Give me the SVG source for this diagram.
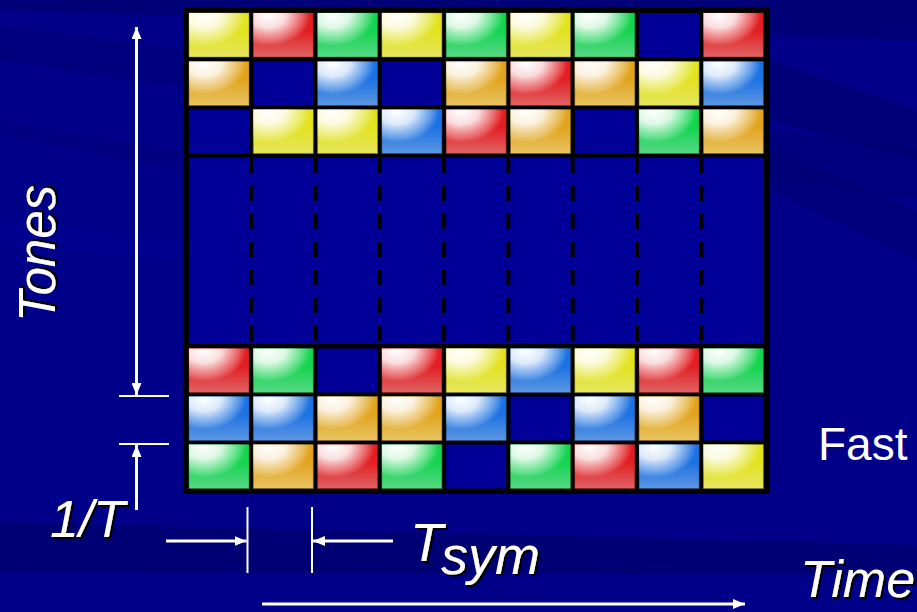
<svg xmlns="http://www.w3.org/2000/svg" xmlns:xlink="http://www.w3.org/1999/xlink" width="917" height="612" viewBox="0 0 917 612">
<style>
.lbl{font-family:"Liberation Sans",Arial,sans-serif;fill:#fff}
.it{font-style:italic}
.shd{filter:url(#ds)}
.ln{stroke:#fff;stroke-width:3;fill:none}
.tk{stroke:#fff;stroke-width:2}
.dash{stroke:#000;stroke-width:4;stroke-dasharray:15 13}
</style>
<defs>
<filter id="ds" x="-10%" y="-10%" width="130%" height="130%">
<feDropShadow dx="2" dy="2" stdDeviation="0.6" flood-color="#000" flood-opacity="1"/>
</filter>
<marker id="ah" markerUnits="userSpaceOnUse" markerWidth="12" markerHeight="10" refX="12" refY="5" orient="auto-start-reverse">
<path d="M0,0 L12,5 L0,10 z" fill="#fff"/>
</marker>
<radialGradient id="hl" cx="0.25" cy="0.05" r="0.95">
<stop offset="0" stop-color="#fff" stop-opacity="1"/>
<stop offset="0.3" stop-color="#fff" stop-opacity="0.85"/>
<stop offset="0.6" stop-color="#fff" stop-opacity="0.3"/>
<stop offset="0.74" stop-color="#fff" stop-opacity="0"/>
</radialGradient>
<linearGradient id="gY" x1="0" y1="0" x2="0" y2="1"><stop offset="0.4" stop-color="#e2e21e"/><stop offset="1" stop-color="#e6e660"/></linearGradient>
<linearGradient id="gR" x1="0" y1="0" x2="0" y2="1"><stop offset="0.4" stop-color="#e21e22"/><stop offset="1" stop-color="#e06464"/></linearGradient>
<linearGradient id="gG" x1="0" y1="0" x2="0" y2="1"><stop offset="0.4" stop-color="#14d450"/><stop offset="1" stop-color="#56d884"/></linearGradient>
<linearGradient id="gB" x1="0" y1="0" x2="0" y2="1"><stop offset="0.4" stop-color="#1c72e2"/><stop offset="1" stop-color="#5c96e2"/></linearGradient>
<linearGradient id="gO" x1="0" y1="0" x2="0" y2="1"><stop offset="0.4" stop-color="#e2a41e"/><stop offset="1" stop-color="#e8c462"/></linearGradient>
<symbol id="Y" overflow="visible"><rect width="60" height="44" fill="url(#gY)" stroke="#8a8a20" stroke-opacity="0.5"/><rect width="60" height="44" fill="url(#hl)"/></symbol>
<symbol id="R" overflow="visible"><rect width="60" height="44" fill="url(#gR)" stroke="#8a2020" stroke-opacity="0.5"/><rect width="60" height="44" fill="url(#hl)"/></symbol>
<symbol id="G" overflow="visible"><rect width="60" height="44" fill="url(#gG)" stroke="#208a40" stroke-opacity="0.5"/><rect width="60" height="44" fill="url(#hl)"/></symbol>
<symbol id="B" overflow="visible"><rect width="60" height="44" fill="url(#gB)" stroke="#20508a" stroke-opacity="0.5"/><rect width="60" height="44" fill="url(#hl)"/></symbol>
<symbol id="O" overflow="visible"><rect width="60" height="44" fill="url(#gO)" stroke="#8a6a20" stroke-opacity="0.5"/><rect width="60" height="44" fill="url(#hl)"/></symbol>
<symbol id="E" overflow="visible"><rect width="60" height="44" fill="#000099"/></symbol>
</defs>

<g id="background">
<rect width="917" height="612" fill="#000088"/>
<polygon points="0,0 917,0 917,40 0,10" fill="#00006c" opacity="0.6"/>
<polygon points="0,25 917,150 917,200 0,60" fill="#00006c" opacity="0.35"/>
<polygon points="770,60 917,110 917,160 770,120" fill="#000070" opacity="0.6"/>
<polygon points="770,150 917,210 917,260 770,190" fill="#000070" opacity="0.5"/>
<polygon points="0,120 180,150 180,170 0,135" fill="#000070" opacity="0.3"/>
<polygon points="0,522 917,545 917,575 0,572" fill="#000066" opacity="0.55"/>
<polygon points="0,220 180,240 180,260 0,245" fill="#000095" opacity="0.5"/>
</g>

<g id="grid">
<rect x="183" y="7" width="587" height="487" fill="#000"/>
<rect x="189" y="157.5" width="575" height="186.5" fill="#000099"/>
<g id="dashes">
<line class="dash" x1="251.2" y1="158" x2="251.2" y2="344"/>
<line class="dash" x1="315.5" y1="158" x2="315.5" y2="344"/>
<line class="dash" x1="379.8" y1="158" x2="379.8" y2="344"/>
<line class="dash" x1="444.1" y1="158" x2="444.1" y2="344"/>
<line class="dash" x1="508.4" y1="158" x2="508.4" y2="344"/>
<line class="dash" x1="572.7" y1="158" x2="572.7" y2="344"/>
<line class="dash" x1="637" y1="158" x2="637" y2="344"/>
<line class="dash" x1="701.3" y1="158" x2="701.3" y2="344"/>
</g>
<g id="row1">
<use href="#Y" x="189" y="13"/><use href="#R" x="253.3" y="13"/><use href="#G" x="317.6" y="13"/><use href="#Y" x="381.9" y="13"/><use href="#G" x="446.2" y="13"/><use href="#Y" x="510.5" y="13"/><use href="#G" x="574.8" y="13"/><use href="#E" x="639.1" y="13"/><use href="#R" x="703.4" y="13"/>
</g>
<g id="row2">
<use href="#O" x="189" y="61.5"/><use href="#E" x="253.3" y="61.5"/><use href="#B" x="317.6" y="61.5"/><use href="#E" x="381.9" y="61.5"/><use href="#O" x="446.2" y="61.5"/><use href="#R" x="510.5" y="61.5"/><use href="#O" x="574.8" y="61.5"/><use href="#Y" x="639.1" y="61.5"/><use href="#B" x="703.4" y="61.5"/>
</g>
<g id="row3">
<use href="#E" x="189" y="109.5"/><use href="#Y" x="253.3" y="109.5"/><use href="#Y" x="317.6" y="109.5"/><use href="#B" x="381.9" y="109.5"/><use href="#R" x="446.2" y="109.5"/><use href="#O" x="510.5" y="109.5"/><use href="#E" x="574.8" y="109.5"/><use href="#G" x="639.1" y="109.5"/><use href="#O" x="703.4" y="109.5"/>
</g>
<g id="row4">
<use href="#R" x="189" y="348.5"/><use href="#G" x="253.3" y="348.5"/><use href="#E" x="317.6" y="348.5"/><use href="#R" x="381.9" y="348.5"/><use href="#Y" x="446.2" y="348.5"/><use href="#B" x="510.5" y="348.5"/><use href="#Y" x="574.8" y="348.5"/><use href="#R" x="639.1" y="348.5"/><use href="#G" x="703.4" y="348.5"/>
</g>
<g id="row5">
<use href="#B" x="189" y="396.5"/><use href="#B" x="253.3" y="396.5"/><use href="#O" x="317.6" y="396.5"/><use href="#O" x="381.9" y="396.5"/><use href="#B" x="446.2" y="396.5"/><use href="#E" x="510.5" y="396.5"/><use href="#B" x="574.8" y="396.5"/><use href="#O" x="639.1" y="396.5"/><use href="#E" x="703.4" y="396.5"/>
</g>
<g id="row6">
<use href="#G" x="189" y="444.5"/><use href="#O" x="253.3" y="444.5"/><use href="#R" x="317.6" y="444.5"/><use href="#G" x="381.9" y="444.5"/><use href="#E" x="446.2" y="444.5"/><use href="#G" x="510.5" y="444.5"/><use href="#R" x="574.8" y="444.5"/><use href="#B" x="639.1" y="444.5"/><use href="#Y" x="703.4" y="444.5"/>
</g>
</g>

<g id="connectors">
<line class="ln" x1="136.5" y1="395" x2="136.5" y2="27" marker-start="url(#ah)" marker-end="url(#ah)"/>
<line class="tk" x1="119" y1="396" x2="169" y2="396"/>
<line class="tk" x1="119" y1="444" x2="169" y2="444"/>
<line class="ln" x1="136.5" y1="510" x2="136.5" y2="445" marker-end="url(#ah)"/>
<line class="tk" x1="247.5" y1="507" x2="247.5" y2="573"/>
<line class="tk" x1="312" y1="507" x2="312" y2="573"/>
<line class="ln" x1="166" y1="541" x2="246.5" y2="541" marker-end="url(#ah)"/>
<line class="ln" x1="393" y1="541" x2="313" y2="541" marker-end="url(#ah)"/>
<line class="ln" x1="262" y1="604" x2="745" y2="604" marker-end="url(#ah)"/>
</g>

<g id="labels">
<text id="tones" class="lbl it shd" font-size="51" transform="translate(55,322) rotate(-90)">Tones</text>
<text id="oneOverT" class="lbl it shd" font-size="52" x="50" y="537">1/T</text>
<text id="tsym" class="lbl it shd" font-size="54" x="410" y="561">T<tspan x="441" y="574">sym</tspan></text>
<text id="fast" class="lbl" font-size="46" x="818" y="460">Fast</text>
<text id="time" class="lbl it shd" font-size="52" x="800" y="597">Time</text>
</g>
</svg>
